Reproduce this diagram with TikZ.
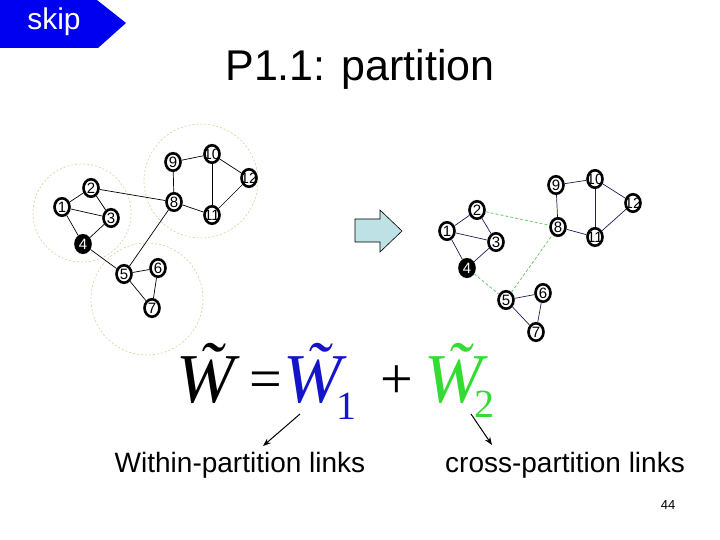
\documentclass[tikz,border=0pt]{standalone}
\usepackage{fontspec}
\setmainfont{Liberation Sans}
\newfontfamily\timesfont{Liberation Serif}
\usetikzlibrary{shapes.geometric,arrows.meta}
\definecolor{skipblue}{RGB}{0,0,240}
\definecolor{ringtan}{RGB}{225,210,165}
\definecolor{navy}{RGB}{30,30,90}
\definecolor{crossgreen}{RGB}{110,200,110}
\definecolor{wblue}{RGB}{20,20,200}
\definecolor{wgreen}{RGB}{50,220,50}
\definecolor{arrowfill}{RGB}{190,225,230}
\tikzset{
  gnode/.style={ellipse, draw=black, line width=2.6pt, minimum width=15pt, minimum height=17.5pt, inner sep=0pt, fill=white},
  num/.style={font=\fontsize{15}{15}\selectfont, inner sep=0pt},
  gblack/.style={gnode, fill=black},
  ring/.style={draw=ringtan, dash pattern=on 2pt off 2pt, line width=0.7pt},
  ledge/.style={draw=black, line width=0.7pt},
  redge/.style={draw=navy, line width=0.7pt},
  xedge/.style={draw=crossgreen, dash pattern=on 3pt off 2pt, line width=0.8pt},
  bigw/.style={font=\timesfont\itshape\fontsize{70}{70}\selectfont, inner sep=0pt},
  subnum/.style={font=\timesfont\fontsize{40}{40}\selectfont, inner sep=0pt},
  opsym/.style={font=\timesfont\fontsize{58}{58}\selectfont, inner sep=0pt},
  txtlabel/.style={font=\fontsize{28}{28}\selectfont, inner sep=0pt},
  pointer/.style={-{Stealth[length=8pt,width=6pt]}, line width=1pt},
}
\begin{document}
\begin{tikzpicture}[x=1pt,y=-1pt]
\useasboundingbox (0,0) rectangle (720,540);
% skip button
\fill[skipblue] (0,0) -- (97,0) -- (126,23) -- (98,48) -- (0,48) -- cycle;
\node[text=white, font=\fontsize{30}{30}\selectfont, inner sep=0pt] (skip) at (54,22) {skip};
% title
\node[font=\fontsize{43}{43}\selectfont, inner sep=0pt] (title) at (360,69) {P1.1: partition};
% rings
\draw[ring] (82,213) circle (49);
\draw[ring] (201,181) circle (57);
\draw[ring] (147,299) circle (56);
% left graph
\node[gnode, label={[num]center:1}] (a1) at (62,207) {};
\node[gnode, label={[num]center:2}] (a2) at (91,188) {};
\node[gnode, label={[num]center:3}] (a3) at (111,218) {};
\node[gblack, label={[num,text=white]center:4}] (a4) at (83,244) {};
\node[gnode, label={[num]center:5}] (a5) at (124,274) {};
\node[gnode, label={[num]center:6}] (a6) at (158,268) {};
\node[gnode, label={[num]center:7}] (a7) at (152,308) {};
\node[gnode, label={[num]center:8}] (a8) at (174,202) {};
\node[gnode, label={[num]center:9}] (a9) at (173,162) {};
\node[gnode, label={[num]center:10}] (a10) at (212,154) {};
\node[gnode, label={[num]center:11}] (a11) at (212,215) {};
\node[gnode, label={[num]center:12}] (a12) at (249,178) {};
\draw[ledge] (a1) -- (a2);
\draw[ledge] (a1) -- (a3);
\draw[ledge] (a1) -- (a4);
\draw[ledge] (a2) -- (a3);
\draw[ledge] (a2) -- (a8);
\draw[ledge] (a3) -- (a4);
\draw[ledge] (a4) -- (a5);
\draw[ledge] (a5) -- (a8);
\draw[ledge] (a5) -- (a6);
\draw[ledge] (a5) -- (a7);
\draw[ledge] (a6) -- (a7);
\draw[ledge] (a8) -- (a9);
\draw[ledge] (a8) -- (a11);
\draw[ledge] (a9) -- (a10);
\draw[ledge] (a10) -- (a11);
\draw[ledge] (a10) -- (a12);
\draw[ledge] (a11) -- (a12);
% block arrow
\draw[fill=arrowfill, line width=0.6pt] (355,219) -- (380,219) -- (380,210) -- (402,231) -- (380,252) -- (380,242) -- (355,242) -- cycle;
% right graph
\node[gnode, label={[num]center:1}] (b1) at (447,231) {};
\node[gnode, label={[num]center:2}] (b2) at (477,210) {};
\node[gnode, label={[num]center:3}] (b3) at (496,242) {};
\node[gblack, label={[num,text=white]center:4}] (b4) at (467,268) {};
\node[gnode, label={[num]center:5}] (b5) at (506,300) {};
\node[gnode, label={[num]center:6}] (b6) at (543,293) {};
\node[gnode, label={[num]center:7}] (b7) at (536,332) {};
\node[gnode, label={[num]center:8}] (b8) at (558,227) {};
\node[gnode, label={[num]center:9}] (b9) at (556,185) {};
\node[gnode, label={[num]center:10}] (b10) at (595,179) {};
\node[gnode, label={[num]center:11}] (b11) at (595,237) {};
\node[gnode, label={[num]center:12}] (b12) at (633,203) {};
\draw[redge] (b1) -- (b2);
\draw[redge] (b1) -- (b3);
\draw[redge] (b1) -- (b4);
\draw[redge] (b2) -- (b3);
\draw[redge] (b3) -- (b4);
\draw[redge] (b5) -- (b6);
\draw[redge] (b5) -- (b7);
\draw[redge] (b6) -- (b7);
\draw[redge] (b8) -- (b9);
\draw[redge] (b8) -- (b11);
\draw[redge] (b9) -- (b10);
\draw[redge] (b10) -- (b11);
\draw[redge] (b10) -- (b12);
\draw[redge] (b11) -- (b12);
\draw[xedge] (b2) -- (b8);
\draw[xedge] (b4) -- (b5);
\draw[xedge] (b5) -- (b8);
% formula
\node[bigw, anchor=base] (w) at (206,402) {\~{W}};
\node[opsym, anchor=base] (eq) at (266,398) {=};
\node[bigw, text=wblue, anchor=base] (w1) at (313,402) {\~{W}};
\node[subnum, text=wblue, anchor=base] (s1) at (346,419) {1};
\node[opsym, anchor=base] (plus) at (397,398) {+};
\node[bigw, text=wgreen, anchor=base] (w2) at (454,402) {\~{W}};
\node[subnum, text=wgreen, anchor=base] (s2) at (484,417) {2};
% labels
\node[txtlabel] (within) at (240,465) {Within-partition links};
\node[txtlabel] (cross) at (565,465) {cross-partition links};
\coordinate (p1) at (300,414);
\coordinate (q1) at (263,446);
\coordinate (p2) at (471,414);
\coordinate (q2) at (492,445);
\draw[pointer] (p1) -- (q1);
\draw[pointer] (p2) -- (q2);
\node[font=\fontsize{13}{13}\selectfont, inner sep=0pt] (pg) at (668,505) {44};
\end{tikzpicture}
\end{document}
